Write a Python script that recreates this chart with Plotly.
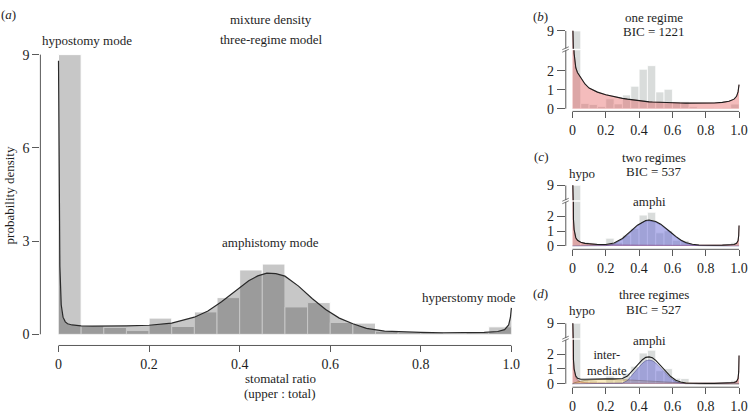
import plotly.graph_objects as go

W, H = 750, 417

# ---------------- data ----------------
bin_left = [0.00, 0.05, 0.10, 0.15, 0.20, 0.25, 0.30, 0.35, 0.40, 0.45,
            0.50, 0.55, 0.60, 0.65, 0.70, 0.75, 0.80, 0.85, 0.90, 0.95]
hist_density = [9.0, 0.27, 0.22, 0.12, 0.52, 0.25, 0.72, 1.18, 2.07, 2.26,
                0.88, 1.02, 0.38, 0.36, 0.10, 0.05, 0.05, 0.03, 0.05, 0.24]

x_ticks = [0, 0.2, 0.4, 0.6, 0.8, 1.0]
x_tick_text = ["0", "0.2", "0.4", "0.6", "0.8", "1.0"]
main_y_ticks = [0, 3, 6, 9]
small_y_ticks_low = [0, 1, 2]
small_y_ticks_high = [9]

curve_x = [0.0, 0.001, 0.003, 0.006, 0.01, 0.015, 0.02, 0.03, 0.05, 0.075,
           0.1, 0.15, 0.2, 0.25, 0.3, 0.33, 0.36, 0.39, 0.42, 0.44,
           0.46, 0.48, 0.5, 0.53, 0.56, 0.59, 0.62, 0.65, 0.68, 0.72,
           0.76, 0.8, 0.85, 0.9, 0.94, 0.97, 0.985, 0.994, 0.998, 1.0]

mixture_main = [8.8, 6.0, 2.2, 0.95, 0.55, 0.4, 0.34, 0.3, 0.27, 0.26,
                0.26, 0.27, 0.29, 0.36, 0.55, 0.75, 1.05, 1.4, 1.72, 1.88,
                1.97, 1.95, 1.87, 1.55, 1.15, 0.8, 0.52, 0.34, 0.19, 0.1,
                0.07, 0.06, 0.05, 0.05, 0.06, 0.09, 0.15, 0.3, 0.55, 0.85]

one_regime = [14.0, 9.5, 5.5, 3.8, 2.9, 2.4, 2.15, 1.9, 1.65, 1.3,
              1.08, 0.87, 0.73, 0.62, 0.54, 0.5, 0.46, 0.43, 0.4, 0.38,
              0.36, 0.35, 0.34, 0.33, 0.32, 0.31, 0.3, 0.3, 0.29, 0.29,
              0.29, 0.29, 0.3, 0.33, 0.39, 0.5, 0.65, 0.88, 1.08, 1.26]

two_hypo = [14.0, 8.0, 3.5, 1.8, 1.1, 0.75, 0.55, 0.38, 0.24, 0.17,
            0.13, 0.09, 0.07, 0.06, 0.05, 0.05, 0.05, 0.045, 0.04, 0.04,
            0.04, 0.04, 0.04, 0.04, 0.04, 0.04, 0.04, 0.04, 0.04, 0.04,
            0.04, 0.04, 0.045, 0.05, 0.06, 0.1, 0.17, 0.35, 0.7, 1.37]
two_amphi = [0, 0, 0, 0, 0, 0, 0, 0, 0, 0,
             0, 0, 0.02, 0.13, 0.45, 0.72, 1.05, 1.35, 1.58, 1.67,
             1.7, 1.67, 1.6, 1.42, 1.18, 0.88, 0.6, 0.36, 0.19, 0.07,
             0.02, 0, 0, 0, 0, 0, 0, 0, 0, 0]

three_hypo = [14.0, 8.0, 3.2, 1.6, 0.95, 0.6, 0.42, 0.25, 0.13, 0.08,
              0.06, 0.04, 0.03, 0.03, 0.03, 0.03, 0.03, 0.03, 0.03, 0.03,
              0.03, 0.03, 0.03, 0.03, 0.03, 0.03, 0.03, 0.03, 0.03, 0.03,
              0.03, 0.03, 0.03, 0.035, 0.05, 0.09, 0.16, 0.35, 0.8, 1.9]
three_inter = [0, 0.01, 0.02, 0.04, 0.06, 0.08, 0.1, 0.13, 0.18, 0.23,
               0.26, 0.29, 0.3, 0.3, 0.28, 0.27, 0.25, 0.23, 0.21, 0.2,
               0.18, 0.17, 0.15, 0.13, 0.1, 0.08, 0.06, 0.04, 0.02, 0.01,
               0, 0, 0, 0, 0, 0, 0, 0, 0, 0]
three_amphi = [0, 0, 0, 0, 0, 0, 0, 0, 0, 0,
               0, 0, 0, 0, 0.05, 0.22, 0.58, 1.0, 1.38, 1.55,
               1.6, 1.55, 1.4, 1.07, 0.7, 0.38, 0.15, 0.05, 0.01, 0,
               0, 0, 0, 0, 0, 0, 0, 0, 0, 0]

two_total = [a + b for a, b in zip(two_hypo, two_amphi)]
three_total = [a + b + c for a, b, c in zip(three_hypo, three_inter, three_amphi)]

# ---------------- style ----------------
FONT = "Liberation Serif, Times New Roman, serif"
TXT = "#1e1e1e"
AXC = "#5a5a5a"
FS = 13
TFS = 14

def pxx(p):
    return p / W

def pxy(p):
    return 1 - p / H

fig = go.Figure()

# ---------------- main panel ----------------
fig.add_trace(go.Bar(x=bin_left, y=hist_density, width=0.05, offset=0,
                     marker=dict(color="rgba(0,0,0,0.22)", line=dict(color="white", width=1)),
                     xaxis="x", yaxis="y", showlegend=False, hoverinfo="skip"))
fig.add_trace(go.Scatter(x=curve_x, y=mixture_main, mode="lines", fill="tozeroy",
                         fillcolor="rgba(0,0,0,0.22)", line=dict(color="#2a2a2a", width=1.2),
                         xaxis="x", yaxis="y", showlegend=False, hoverinfo="skip"))

main_xd = [40.5, 530.9]
main_yd = [348.5, 37.5]

tickfont = dict(family=FONT, size=TFS, color=TXT)

layout_axes = {}
layout_axes["xaxis"] = dict(domain=[pxx(main_xd[0]), pxx(main_xd[1])], range=[-0.04, 1.04],
                            anchor="y", tickvals=x_ticks, ticktext=x_tick_text,
                            ticks="outside", ticklen=6, tickcolor=AXC, showline=False,
                            showgrid=False, zeroline=False, fixedrange=True, tickfont=tickfont)
layout_axes["yaxis"] = dict(domain=[pxy(main_yd[0]), pxy(main_yd[1])], range=[-0.36, 9.36],
                            anchor="x", tickvals=main_y_ticks, ticks="outside", ticklen=7,
                            tickcolor=AXC, showline=False, showgrid=False, zeroline=False,
                            fixedrange=True, tickfont=tickfont)

shapes = [
    dict(type="line", xref="x", yref="paper", x0=0, x1=1, y0=pxy(main_yd[0]), y1=pxy(main_yd[0]),
         line=dict(color=AXC, width=1)),
    dict(type="line", xref="paper", yref="y", x0=pxx(main_xd[0]), x1=pxx(main_xd[0]), y0=0, y1=9,
         line=dict(color=AXC, width=1)),
]

# ---------------- small panels ----------------
PINK = "rgba(225,80,80,0.38)"
BLUE = "rgba(90,90,210,0.45)"
YELLOW = "rgba(240,200,80,0.35)"
SBAR = "rgba(120,130,125,0.28)"

small_xd = [567.3, 747.7]
panels = [
    dict(xa=2, yl=2, yh=3, ld=(107.5, 44.5), hd=(43.0, 24.5), lr=[-0.143, 3.07],
         comps=[(one_regime, PINK, "rgba(150,40,40,0.6)")], total=one_regime),
    dict(xa=3, yl=4, yh=5, ld=(249.5, 200.5), hd=(199.0, 183.5), lr=[-0.229, 2.97],
         comps=[(two_hypo, PINK, "rgba(150,40,40,0.6)"), (two_amphi, BLUE, "rgba(40,40,120,0.6)")],
         total=two_total),
    dict(xa=4, yl=6, yh=7, ld=(391.5, 342.5), hd=(341.0, 325.5), lr=[-0.229, 2.97],
         comps=[(three_hypo, PINK, "rgba(150,40,40,0.6)"), (three_inter, YELLOW, "rgba(120,90,30,0.7)"),
                (three_amphi, BLUE, "rgba(40,40,120,0.6)")],
         total=three_total),
]

for p in panels:
    xa = "x%d" % p["xa"]
    for yid in (p["yl"], p["yh"]):
        ya = "y%d" % yid
        fig.add_trace(go.Bar(x=bin_left, y=hist_density, width=0.05, offset=0,
                             marker=dict(color=SBAR, line=dict(color="white", width=0.8)),
                             xaxis=xa, yaxis=ya, showlegend=False, hoverinfo="skip"))
        for vals, fc, lc in p["comps"]:
            fig.add_trace(go.Scatter(x=curve_x, y=vals, mode="lines", fill="tozeroy",
                                     fillcolor=fc, line=dict(color=lc, width=0.7),
                                     xaxis=xa, yaxis=ya, showlegend=False, hoverinfo="skip"))
        fig.add_trace(go.Scatter(x=curve_x, y=p["total"], mode="lines",
                                 line=dict(color="#1e1e1e", width=1.1),
                                 xaxis=xa, yaxis=ya, showlegend=False, hoverinfo="skip"))

    layout_axes["xaxis%d" % p["xa"]] = dict(
        domain=[pxx(small_xd[0]), pxx(small_xd[1])], range=[-0.04, 1.04], anchor="y%d" % p["yl"],
        tickvals=x_ticks, ticktext=x_tick_text, ticks="outside", ticklen=6, tickcolor=AXC,
        showline=False, showgrid=False, zeroline=False, fixedrange=True, tickfont=tickfont)
    layout_axes["yaxis%d" % p["yl"]] = dict(
        domain=[pxy(p["ld"][0]), pxy(p["ld"][1])], range=p["lr"], anchor=xa,
        tickvals=small_y_ticks_low, ticks="outside", ticklen=8, tickcolor=AXC,
        showline=False, showgrid=False, zeroline=False, fixedrange=True, tickfont=tickfont)
    layout_axes["yaxis%d" % p["yh"]] = dict(
        domain=[pxy(p["hd"][0]), pxy(p["hd"][1])], range=[5, 9.03], anchor=xa,
        tickvals=small_y_ticks_high, ticks="outside", ticklen=8, tickcolor=AXC,
        showline=False, showgrid=False, zeroline=False, fixedrange=True, tickfont=tickfont)

    shapes.append(dict(type="line", xref=xa, yref="paper", x0=0, x1=1,
                       y0=pxy(p["ld"][0]), y1=pxy(p["ld"][0]), line=dict(color=AXC, width=1)))
    shapes.append(dict(type="line", xref="paper", yref="y%d" % p["yl"],
                       x0=pxx(small_xd[0]), x1=pxx(small_xd[0]), y0=0, y1=p["lr"][1],
                       line=dict(color=AXC, width=1)))
    shapes.append(dict(type="line", xref="paper", yref="y%d" % p["yh"],
                       x0=pxx(small_xd[0]), x1=pxx(small_xd[0]), y0=5, y1=9,
                       line=dict(color=AXC, width=1)))
    gy = (p["ld"][1] + p["hd"][0]) / 2.0
    for dy in (-1.3, 1.3):
        shapes.append(dict(type="line", xref="paper", yref="paper",
                           x0=pxx(small_xd[0] - 3.5), x1=pxx(small_xd[0] + 3.0),
                           y0=pxy(gy + dy + 1.5), y1=pxy(gy + dy - 1.5),
                           line=dict(color=AXC, width=0.8)))

# ---------------- annotations ----------------
def txt(s, x, y, size=FS, angle=0):
    return dict(text=s, x=pxx(x), y=pxy(y), xref="paper", yref="paper", showarrow=False,
                xanchor="center", yanchor="middle", textangle=angle,
                font=dict(family=FONT, size=size, color=TXT))

annotations = [
    txt("(<i>a</i>)", 9, 8),
    txt("mixture density", 272, 13),
    txt("three-regime model", 272, 33),
    txt("hypostomy mode", 87.5, 35),
    txt("amphistomy mode", 271.7, 242),
    txt("hyperstomy mode", 470, 299),
    txt("probability density", 9, 194, angle=-90),
    txt("stomatal ratio", 281, 382),
    txt("(upper : total)", 280, 398),
    txt("(<i>b</i>)", 542, 9.5),
    txt("one regime", 655.5, 10.5),
    txt("BIC = 1221", 655.5, 25.5),
    txt("(<i>c</i>)", 542, 154),
    txt("two regimes", 655.5, 154.5),
    txt("BIC = 537", 655.5, 169),
    txt("hypo", 583.5, 171),
    txt("amphi", 651, 200),
    txt("(<i>d</i>)", 542, 295),
    txt("three regimes", 656, 296.5),
    txt("BIC = 527", 655.5, 311.5),
    txt("hypo", 583.5, 312),
    txt("amphi", 651, 343),
    txt("inter-<br>mediate", 609, 366.5, size=12.5),
]

fig.update_layout(
    width=W, height=H, margin=dict(l=0, r=0, t=0, b=0),
    paper_bgcolor="white", plot_bgcolor="rgba(0,0,0,0)",
    font=dict(family=FONT, size=FS, color=TXT),
    barmode="overlay", showlegend=False,
    shapes=shapes, annotations=annotations,
    **layout_axes,
)

fig.write_html("out.html", config={"displayModeBar": False},
               post_script="document.body.style.margin='0';document.body.style.padding='0';")
